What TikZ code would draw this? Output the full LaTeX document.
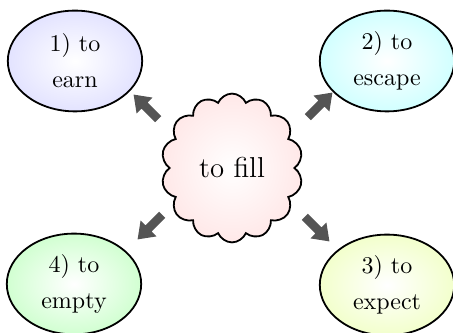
\documentclass[tikz,border=0pt]{standalone}
\usetikzlibrary{shapes.geometric,shapes.symbols,shapes.arrows,shadings}
\begin{document}
\begin{tikzpicture}[x=0.4167pt,y=-0.4167pt,
  bubble/.style={ellipse,draw=black,line width=0.75pt,minimum width=56pt,minimum height=42pt,inner sep=0pt,
    align=center,font=\fontsize{10}{15}\selectfont,shading=radial,inner color=white},
  centercloud/.style={cloud,cloud puffs=14,cloud puff arc=135,draw=black,line width=0.75pt,
    minimum width=59pt,minimum height=62pt,inner sep=0pt,font=\large,shading=radial,inner color=white,outer color=red!9},
  pointer/.style={single arrow,fill=black!67,draw=none,minimum height=14.5pt,
    single arrow head extend=2.9pt,single arrow tip angle=72,inner sep=1.6pt}]
\useasboundingbox (0,0) rectangle (453,333);
\node[centercloud] (c) at (232,168) {to fill};
\node[bubble,outer color=blue!11] (e1) at (75,61) {1) to\\earn};
\node[bubble,outer color=cyan!18] (e2) at (387,61) {2) to\\escape};
\node[bubble,outer color=lime!20] (e3) at (387,285) {3) to\\expect};
\node[bubble,outer color=green!18] (e4) at (74,284) {4) to\\empty};
\node[pointer,rotate=135] (a1) at (148,109) {};
\node[pointer,rotate=45] (a2) at (318,107) {};
\node[pointer,rotate=-45] (a3) at (315,227) {};
\node[pointer,rotate=225] (a4) at (152,225) {};
\end{tikzpicture}
\end{document}
